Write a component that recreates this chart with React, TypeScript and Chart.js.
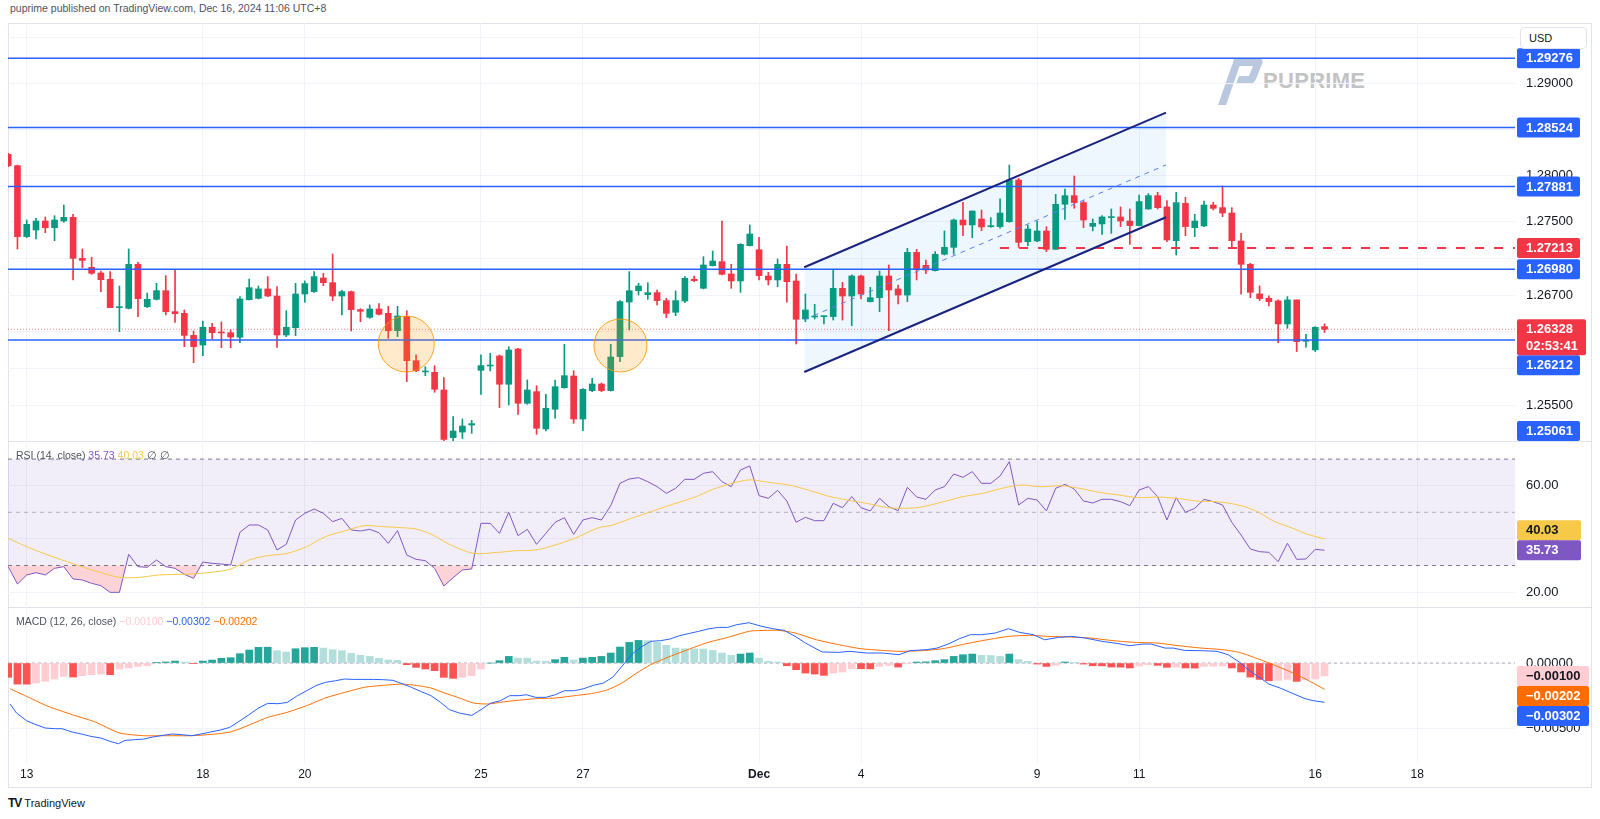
import React, { useEffect, useRef } from 'react';
import { Chart, registerables } from 'chart.js';

Chart.register(...registerables);

const FONT = '"Liberation Sans", Arial, sans-serif';
Chart.defaults.font.family = FONT;

// ---------------- DATA ----------------
const dayTickIndex = [2, 21, 32, 51, 62, 81, 92, 111, 122, 141, 152];
const dayTickLabels = ['13', '18', '20', '25', '27', 'Dec', '4', '9', '11', '16', '18'];

const opens = [1.28231,1.28108,1.27336,1.27408,1.27506,1.27434,1.27506,1.27546,1.27100,1.27002,1.26941,1.26872,1.26564,1.26556,1.27035,1.26574,1.26654,1.26748,1.26520,1.26502,1.26262,1.26157,1.26350,1.26295,1.26291,1.26241,1.26650,1.26665,1.26767,1.26690,1.26266,1.26346,1.26712,1.26738,1.26886,1.26835,1.26690,1.26738,1.26542,1.26458,1.26549,1.26502,1.26313,1.26466,1.25987,1.25864,1.25860,1.25668,1.25150,1.25210,1.25287,1.25882,1.25929,1.26038,1.25730,1.26114,1.25523,1.25650,1.25244,1.25458,1.25693,1.25820,1.25352,1.25661,1.25733,1.25661,1.26031,1.26625,1.26748,1.26705,1.26727,1.26640,1.26513,1.26636,1.26872,1.26774,1.27020,1.27064,1.26930,1.26854,1.27238,1.27194,1.26908,1.26865,1.27035,1.26854,1.26440,1.26462,1.26466,1.26466,1.26774,1.26690,1.26908,1.26629,1.26672,1.26908,1.26767,1.26701,1.27165,1.27024,1.26966,1.27144,1.27220,1.27517,1.27463,1.27528,1.27445,1.27445,1.27499,1.27952,1.27281,1.27289,1.27398,1.27198,1.27688,1.27782,1.27706,1.27448,1.27474,1.27543,1.27550,1.27506,1.27456,1.27637,1.27782,1.27659,1.27292,1.27698,1.27434,1.27452,1.27680,1.27651,1.27593,1.27289,1.27035,1.26713,1.26666,1.26637,1.26386,1.26648,1.26198,1.26104,1.26357];
const highs = [1.28242,1.28115,1.27517,1.27535,1.27550,1.27564,1.27680,1.27579,1.27202,1.27111,1.26962,1.26955,1.26799,1.27202,1.27057,1.26723,1.26828,1.26912,1.26973,1.26538,1.26310,1.26418,1.26393,1.26408,1.26321,1.26683,1.26875,1.26799,1.26901,1.26792,1.26531,1.26828,1.26854,1.26955,1.26937,1.27147,1.26752,1.26745,1.26553,1.26593,1.26607,1.26578,1.26578,1.26531,1.26049,1.25922,1.25933,1.25802,1.25378,1.25352,1.25338,1.26049,1.26067,1.26049,1.26139,1.26121,1.25777,1.25715,1.25621,1.25777,1.26165,1.25878,1.25682,1.25795,1.25744,1.26165,1.26640,1.26955,1.26828,1.26835,1.26756,1.26665,1.26745,1.26901,1.26908,1.27118,1.27180,1.27506,1.27035,1.27260,1.27463,1.27329,1.26948,1.27093,1.27234,1.26930,1.26712,1.26600,1.26473,1.26973,1.26839,1.26919,1.26919,1.26785,1.26962,1.27028,1.26810,1.27209,1.27198,1.27082,1.27173,1.27398,1.27528,1.27709,1.27615,1.27626,1.27543,1.27746,1.28115,1.27970,1.27463,1.27506,1.27445,1.27796,1.27854,1.27996,1.27724,1.27528,1.27564,1.27637,1.27659,1.27637,1.27789,1.27804,1.27818,1.27727,1.27818,1.27764,1.27579,1.27724,1.27709,1.27887,1.27651,1.27372,1.27046,1.26800,1.26691,1.26648,1.26684,1.26648,1.26274,1.26357,1.26386];
const lows = [1.28097,1.27202,1.27325,1.27310,1.27379,1.27292,1.27492,1.26865,1.26999,1.26926,1.26738,1.26564,1.26302,1.26549,1.26466,1.26564,1.26647,1.26484,1.26404,1.26139,1.25965,1.26041,1.26223,1.26128,1.26128,1.26183,1.26647,1.26658,1.26683,1.26132,1.26248,1.26259,1.26622,1.26730,1.26803,1.26640,1.26484,1.26310,1.26411,1.26448,1.26484,1.26230,1.26248,1.25759,1.25867,1.25824,1.25643,1.25061,1.25070,1.25140,1.25197,1.25621,1.25875,1.25476,1.25505,1.25403,1.25512,1.25186,1.25222,1.25360,1.25686,1.25305,1.25226,1.25650,1.25650,1.25657,1.25976,1.26321,1.26701,1.26654,1.26593,1.26455,1.26476,1.26618,1.26846,1.26767,1.27017,1.26919,1.26774,1.26730,1.27234,1.26865,1.26810,1.26792,1.26622,1.26168,1.26411,1.26440,1.26386,1.26429,1.26429,1.26368,1.26658,1.26625,1.26520,1.26313,1.26603,1.26629,1.26865,1.26933,1.26962,1.27136,1.27144,1.27347,1.27325,1.27401,1.27437,1.27427,1.27492,1.27220,1.27238,1.27281,1.27173,1.27198,1.27524,1.27644,1.27434,1.27398,1.27361,1.27372,1.27445,1.27252,1.27452,1.27633,1.27637,1.27281,1.27136,1.27347,1.27336,1.27445,1.27626,1.27553,1.27209,1.26709,1.26672,1.26640,1.26582,1.26183,1.26339,1.26086,1.26133,1.26086,1.26292];
const closes = [1.28108,1.27336,1.27470,1.27506,1.27434,1.27517,1.27546,1.27100,1.27078,1.26937,1.26868,1.26564,1.26567,1.27035,1.26661,1.26654,1.26748,1.26520,1.26498,1.26262,1.26139,1.26350,1.26291,1.26288,1.26244,1.26658,1.26781,1.26767,1.26690,1.26266,1.26350,1.26712,1.26825,1.26901,1.26835,1.26690,1.26738,1.26542,1.26524,1.26549,1.26491,1.26313,1.26473,1.25987,1.25878,1.25871,1.25675,1.25130,1.25222,1.25276,1.25302,1.25933,1.25936,1.25730,1.26103,1.25523,1.25668,1.25251,1.25469,1.25704,1.25824,1.25352,1.25675,1.25733,1.25661,1.26027,1.26629,1.26748,1.26799,1.26727,1.26640,1.26502,1.26640,1.26883,1.26857,1.27028,1.27071,1.26926,1.26854,1.27252,1.27365,1.26912,1.26865,1.27035,1.26846,1.26437,1.26538,1.26473,1.26473,1.26774,1.26690,1.26908,1.26712,1.26672,1.26908,1.26756,1.26701,1.27165,1.26984,1.26973,1.27144,1.27220,1.27517,1.27463,1.27615,1.27441,1.27452,1.27593,1.27952,1.27274,1.27419,1.27398,1.27198,1.27688,1.27782,1.27706,1.27517,1.27481,1.27550,1.27550,1.27506,1.27456,1.27717,1.27782,1.27651,1.27300,1.27706,1.27445,1.27506,1.27680,1.27644,1.27593,1.27292,1.27035,1.26730,1.26662,1.26629,1.26386,1.26648,1.26194,1.26206,1.26350,1.26328];

const levelLines = [1.29276, 1.28524, 1.27881, 1.26980, 1.26212, 1.25061];
const resistanceLevel = 1.27213;
const resistanceStartIndex = 107;
const lastPrice = 1.26328;
const countdown = '02:53:41';

const channelIndex = [85.88, 124.9];
const channelUpper = [1.27003, 1.28685];
const channelLower = [1.25864, 1.27547];
const channelMid = [1.26434, 1.28116];

const circleIndex = [42.95, 66.05];
const circlePrice = [1.26169, 1.26152];

const rsiValues = [29.56,23.04,26.43,27.3,26.43,28.93,29.56,24.93,24.55,23.3,22.42,19.91,19.91,34.2,29.56,29.31,32.07,29.56,28.93,26.68,25.18,31.32,30.82,30.56,30.19,42.47,45.23,45.23,43.35,35.83,37.96,47.1,49.61,51.24,49.61,46.48,47.73,43.35,42.97,43.6,42.34,38.33,43.1,33.95,32.32,31.82,28.93,22.29,25.43,28.31,28.68,45.85,45.85,42.09,49.99,41.22,43.6,37.96,42.09,46.23,47.98,41.72,47.1,47.98,47.1,52.49,60.89,62.52,63.02,61.52,59.64,57.13,59.01,62.39,62.39,64.65,65.28,61.52,59.64,65.9,67.41,56.25,55.25,58.26,54.25,46.23,48.11,46.85,46.85,53.37,51.74,55.88,51.74,50.49,55.25,52.12,50.61,59.39,55.75,54.87,58.38,59.64,64.4,63.15,65.28,60.89,60.89,63.65,69.03,52.74,55.25,54.62,50.49,59.01,60.51,58.76,54.25,53.5,54.87,54.87,54.0,52.49,58.38,59.64,55.88,47.1,55.5,49.99,51.49,54.87,54.0,52.74,46.23,41.47,36.2,35.2,34.95,31.44,38.33,32.32,32.44,36.08,35.73];
const rsiMaIndex = [0,2,4.3,6.9,9.4,12,14.1,16.2,18.7,20.8,23.9,26,28,30.1,32.2,34.2,36.3,38.4,40.4,42.5,44,45.6,47.6,50.2,52.8,54.9,56.9,59,61.1,63.7,65.2,66.7,68.8,71.4,74,76,78.1,80,82,84.2,86.3,88.4,90.5,92.6,94.7,96.2,98.3,100.9,103,105.1,107.2,109.3,111.4,113.5,115.6,117.7,119.8,121.9,124,126,128.2,130.2,131.8,133.4,134.9,136.5,138.6,140.2,142];
const rsiMaValues = [40.2,37.08,33.95,30.8,27.93,25.55,25.55,26.4,26.7,27.06,28.56,32.07,33.7,34.57,37.08,40.84,42.97,44.97,44.6,44.2,43.7,41.84,37.96,34.57,34.95,35.57,35.83,37.7,40.2,44.2,45.2,47.1,49.6,52.7,55.6,58.6,60.9,62.2,61.26,60.26,58.38,56.13,54.6,53.37,51.87,51.49,51.87,54.0,55.88,57.13,59.0,60.26,59.6,60.0,59.0,57.5,56.5,55.5,55.75,55.25,54.25,54.0,53.37,52.1,50.0,46.7,43.97,41.7,40.03];
const rsiLevels = [70, 50, 30];

const histValues = [-0.00110,-0.00162,-0.00163,-0.00154,-0.00141,-0.00123,-0.00103,-0.00108,-0.00097,-0.00090,-0.00085,-0.00090,-0.00046,-0.00038,-0.00026,-0.00021,0.00005,0.00008,0.00015,0.00008,-0.00005,0.00015,0.00023,0.00036,0.00041,0.00072,0.00100,0.00121,0.00122,0.00095,0.00085,0.00110,0.00118,0.00121,0.00115,0.00103,0.00095,0.00074,0.00059,0.00051,0.00036,0.00023,0.00021,-0.00013,-0.00033,-0.00046,-0.00059,-0.00110,-0.00118,-0.00110,-0.00097,-0.00046,0.00000,0.00018,0.00051,0.00038,0.00037,0.00015,0.00014,0.00026,0.00044,0.00023,0.00038,0.00044,0.00051,0.00077,0.00123,0.00159,0.00174,0.00172,0.00159,0.00136,0.00115,0.00110,0.00109,0.00108,0.00097,0.00077,0.00059,0.00069,0.00077,0.00038,0.00013,0.00008,-0.00021,-0.00051,-0.00077,-0.00085,-0.00095,-0.00077,-0.00069,-0.00044,-0.00044,-0.00045,-0.00026,-0.00018,-0.00031,-0.00003,0.00008,0.00009,0.00018,0.00026,0.00051,0.00064,0.00069,0.00059,0.00058,0.00051,0.00069,0.00026,0.00013,-0.00008,-0.00026,-0.00018,0.00008,0.00005,-0.00008,-0.00021,-0.00022,-0.00031,-0.00032,-0.00038,-0.00023,-0.00013,-0.00018,-0.00033,-0.00031,-0.00038,-0.00039,-0.00026,-0.00025,-0.00023,-0.00038,-0.00069,-0.00108,-0.00126,-0.00136,-0.00133,-0.00126,-0.00141,-0.00128,-0.00123,-0.00100];
const macdIndex = [0.2,0.9,2,3,4,5,5.8,6.9,7.9,8.9,10,11,11.9,12.6,13.6,14.6,15.6,16.7,17.7,18.7,19.8,20.8,21.8,22.9,23.9,24.9,26,27,28,29.1,30.1,31.1,32.2,33.2,34.2,35.3,36.3,37.3,38.4,39.4,40.4,41.5,42.5,43.5,44.6,45.6,46.6,47.6,48.7,50,51,52,53.1,54.1,55.1,55.9,56.9,58,59,60,61.1,62.1,63.1,64.2,65.2,66.2,67.3,68.3,69.3,70.4,71.4,72.4,73.5,74.5,75.5,76.6,77.6,78.6,79.9,81.3,82.5,83.7,84.9,86,87.8,89.6,90.8,92.6,94.3,96.1,97.3,99.1,100.2,101.4,102.6,103.8,105,106.5,107.9,109.1,110.6,111.8,113.3,114.7,116.2,118,119.8,121,122.4,123.3,124.8,125.7,126.9,128.7,130.4,131.6,132.8,134,135.2,136,137.2,138.7,139.9,140.8,142];
const macdValues = [-0.00315,-0.00385,-0.00444,-0.00474,-0.0050,-0.00505,-0.00505,-0.00531,-0.00546,-0.00564,-0.00577,-0.00603,-0.00621,-0.00595,-0.0059,-0.00585,-0.00569,-0.00556,-0.00546,-0.00551,-0.00559,-0.00546,-0.00531,-0.00515,-0.00495,-0.00449,-0.00397,-0.00346,-0.0031,-0.00313,-0.00303,-0.00256,-0.00213,-0.00174,-0.00149,-0.00136,-0.00123,-0.00126,-0.00126,-0.00126,-0.00128,-0.00133,-0.00159,-0.00187,-0.00221,-0.00251,-0.003,-0.00359,-0.00385,-0.00403,-0.00359,-0.0031,-0.0029,-0.00251,-0.00251,-0.00244,-0.00264,-0.00264,-0.00244,-0.00213,-0.00213,-0.00197,-0.00172,-0.00154,-0.0011,-0.00026,0.00069,0.00123,0.00167,0.00172,0.00185,0.0021,0.00228,0.00244,0.00262,0.00274,0.00274,0.00295,0.0031,0.00282,0.00264,0.00251,0.00205,0.00154,0.00085,0.00082,0.0009,0.00077,0.00077,0.00064,0.00095,0.00103,0.00115,0.00146,0.00187,0.00218,0.00218,0.00231,0.00264,0.00236,0.00218,0.00179,0.00197,0.00205,0.00192,0.00167,0.00149,0.00133,0.00146,0.00146,0.00115,0.00115,0.00097,0.00095,0.0009,0.00064,0.00008,-0.00064,-0.00121,-0.00162,-0.00192,-0.00238,-0.00274,-0.0029,-0.00302];
const signalIndex = [0.2,2.2,4.3,6.9,9.4,12,14.6,17.2,19.8,22.4,23.9,24.9,26.5,28,30.1,32.2,34.2,36.3,38.4,40.4,42.5,44,45.6,47.1,48.7,50.2,51.8,53.3,54.9,56.9,59,61.1,63.1,64.7,66.2,67.8,69.3,71.4,73.5,75.5,77.6,79.9,80.7,83.1,84.9,87.2,89.6,92,94.3,96.1,98.5,100.8,103.2,105.6,107.9,110.3,112.1,114.5,116.8,119.2,121.5,123.9,126.3,128.7,131,132.8,134.6,136.3,138.2,139.9,142];
const signalValues = [-0.00197,-0.00264,-0.00333,-0.00397,-0.00454,-0.00538,-0.00559,-0.00559,-0.00559,-0.00546,-0.00531,-0.00508,-0.00462,-0.00418,-0.00379,-0.00328,-0.00269,-0.00226,-0.00187,-0.00172,-0.00162,-0.00172,-0.00192,-0.00231,-0.00269,-0.00308,-0.00315,-0.003,-0.00287,-0.00274,-0.00269,-0.00251,-0.00233,-0.00205,-0.00154,-0.00077,-0.00013,0.00051,0.00108,0.00159,0.00197,0.00244,0.00249,0.00251,0.00231,0.00179,0.00141,0.0011,0.00097,0.0009,0.00095,0.0011,0.00146,0.00179,0.00205,0.00213,0.00205,0.002,0.00192,0.00172,0.00159,0.00154,0.00133,0.00115,0.00103,0.00082,0.00038,-0.00008,-0.00064,-0.00121,-0.00202];

const priceTicks = [1.255, 1.259, 1.263, 1.267, 1.271, 1.275, 1.28, 1.285, 1.29, 1.295];
const priceTicksShown = [1.255, 1.267, 1.275, 1.28, 1.29];
const rsiTicks = [20, 40, 60];
const macdTicks = [-0.005, 0];

// ---------------- STYLE ----------------
const X_MIN = -0.02;
const X_MAX = 162.55;
const GRID = '#f0f3fa';
const UP = '#089981';
const DOWN = '#f23645';
const BLUE = '#2962ff';
const RSI_COLOR = '#7e57c2';
const MA_COLOR = '#f7c948';
const MACD_COLOR = '#2962ff';
const SIGNAL_COLOR = '#ff6d00';
const TEXT = '#131722';

const minus = (v: number, d: number) => (v < 0 ? '\u2212' : '') + Math.abs(v).toFixed(d);

type Tag = { value: number; bg: string; fg: string; text: string; sub?: string; width: number; anchor?: boolean };

function drawTags(chart: any, tags: Tag[]) {
  const ctx = chart.ctx;
  const area = chart.chartArea;
  const ys = chart.scales.y;
  const H = 20;
  const items = tags.map((t) => {
    const ny = ys.getPixelForValue(t.value);
    const h = t.sub ? 36 : H;
    let top = ny - H / 2;
    top = Math.max(area.top, Math.min(top, area.bottom - h));
    return { t, ny, h, top };
  });
  const anchor = items.find((it) => it.t.anchor) || items[0];
  const below = items.filter((it) => it !== anchor && it.ny >= anchor.ny).sort((a, b) => a.ny - b.ny);
  let edge = anchor.top + anchor.h;
  for (const it of below) {
    if (it.top < edge) it.top = edge;
    edge = it.top + it.h;
  }
  const above = items.filter((it) => it !== anchor && it.ny < anchor.ny).sort((a, b) => b.ny - a.ny);
  edge = anchor.top;
  for (const it of above) {
    if (it.top + it.h > edge) it.top = edge - it.h;
    edge = it.top;
  }
  ctx.save();
  ctx.font = `bold 13px ${FONT}`;
  ctx.textBaseline = 'middle';
  ctx.textAlign = 'left';
  const ordered = items.filter((it) => it !== anchor).concat([anchor]);
  for (const it of ordered) {
    ctx.fillStyle = it.t.bg;
    ctx.beginPath();
    ctx.roundRect(area.right + 2, it.top, it.t.width, it.h, 2);
    ctx.fill();
    ctx.fillStyle = it.t.fg;
    ctx.fillText(it.t.text, area.right + 11, it.top + 10.5);
    if (it.t.sub) ctx.fillText(it.t.sub, area.right + 11, it.top + 27);
  }
  ctx.restore();
}

function xAxis(showLabels: boolean) {
  return {
    type: 'linear',
    min: X_MIN,
    max: X_MAX,
    bounds: 'data',
    offset: false,
    afterBuildTicks: (axis: any) => {
      axis.ticks = dayTickIndex.map((v) => ({ value: v }));
    },
    afterFit: (axis: any) => {
      axis.height = showLabels ? 25 : 0;
      axis.paddingLeft = 0;
      axis.paddingRight = 0;
    },
    ticks: {
      display: showLabels,
      autoSkip: false,
      maxRotation: 0,
      padding: 4,
      color: TEXT,
      callback: (_v: any, i: number) => dayTickLabels[i],
      font: (ctx: any) => ({ family: FONT, size: 12, weight: ctx.tick && ctx.tick.label === 'Dec' ? 'bold' : 'normal' }),
    },
    grid: { color: GRID, drawTicks: false, offset: false },
    border: { display: false },
  };
}

function yAxis(min: number, max: number, ticks: number[], fmt: (v: number) => string) {
  return {
    type: 'linear',
    position: 'right',
    min,
    max,
    bounds: 'data',
    beginAtZero: false,
    afterBuildTicks: (axis: any) => {
      axis.ticks = ticks.map((v) => ({ value: v }));
    },
    afterFit: (axis: any) => {
      axis.width = 76;
      axis.paddingTop = 0;
      axis.paddingBottom = 0;
    },
    ticks: { autoSkip: false, padding: 11, color: TEXT, font: { family: FONT, size: 13 }, callback: (v: any) => fmt(Number(v)) },
    grid: { color: GRID, drawTicks: false },
    border: { display: false },
  };
}

const baseOptions = {
  animation: false,
  responsive: false,
  maintainAspectRatio: false,
  events: [],
  layout: { padding: { left: 8, right: 9, top: 0, bottom: 0 }, autoPadding: false },
  plugins: { legend: { display: false }, tooltip: { enabled: false } },
};

const hLine = (from: number, to: number, y: number, extra: any) => ({
  type: 'line',
  data: [{ x: from, y }, { x: to, y }],
  pointRadius: 0,
  ...extra,
});

function priceConfig() {
  const idx = opens.map((_, i) => i);
  const colors = opens.map((o, i) => (closes[i] >= o ? UP : DOWN));
  const tags: Tag[] = [
    ...levelLines.map((v) => ({ value: v, bg: BLUE, fg: '#fff', text: v.toFixed(5), width: 63 })),
    { value: resistanceLevel, bg: DOWN, fg: '#fff', text: resistanceLevel.toFixed(5), width: 63 },
    { value: lastPrice, bg: DOWN, fg: '#fff', text: lastPrice.toFixed(5), sub: countdown, width: 69, anchor: true },
  ];
  return {
    type: 'bar',
    data: {
      datasets: [
        { type: 'line', data: channelIndex.map((x, k) => ({ x, y: channelUpper[k] })), borderWidth: 0, pointRadius: 0, fill: false, order: 20 },
        { type: 'line', data: channelIndex.map((x, k) => ({ x, y: channelLower[k] })), borderWidth: 0, pointRadius: 0, fill: '-1', backgroundColor: 'rgba(33,150,243,0.08)', order: 19 },
        { type: 'bar', data: idx.map((i) => ({ x: i, y: [lows[i], highs[i]] })), backgroundColor: colors, barThickness: 1, grouped: false, order: 6 },
        { type: 'bar', data: idx.map((i) => ({ x: i, y: [opens[i], closes[i]] })), backgroundColor: colors, barThickness: 6, grouped: false, minBarLength: 1, order: 5 },
        hLine(X_MIN, X_MAX, lastPrice, { borderColor: 'rgba(242,54,69,0.6)', borderWidth: 1, borderDash: [1, 2], order: 4 }),
        ...levelLines.map((v) => hLine(X_MIN, X_MAX, v, { borderColor: BLUE, borderWidth: 1.5, order: 3 })),
        hLine(resistanceStartIndex, X_MAX, resistanceLevel, { borderColor: DOWN, borderWidth: 2, borderDash: [9, 10], order: 3 }),
        { type: 'line', data: channelIndex.map((x, k) => ({ x, y: channelUpper[k] })), borderColor: '#1a237e', borderWidth: 2, pointRadius: 0, order: 2 },
        { type: 'line', data: channelIndex.map((x, k) => ({ x, y: channelLower[k] })), borderColor: '#1a237e', borderWidth: 2, pointRadius: 0, order: 2 },
        { type: 'line', data: channelIndex.map((x, k) => ({ x, y: channelMid[k] })), borderColor: '#5b7cf7', borderWidth: 1, borderDash: [5, 5], pointRadius: 0, order: 2 },
        { type: 'bubble', data: circleIndex.map((x, k) => ({ x, y: circlePrice[k], r: k === 0 ? 28 : 26.5 })), backgroundColor: 'rgba(255,152,0,0.2)', borderColor: 'rgba(255,152,0,0.85)', borderWidth: 1, order: 1 },
      ],
    },
    options: {
      ...baseOptions,
      scales: {
        x: xAxis(false),
        y: yAxis(1.25113, 1.2966, priceTicks, (v) => (priceTicksShown.some((t) => Math.abs(t - v) < 1e-7) ? v.toFixed(5) : '')),
      },
    },
    plugins: [{ id: 'priceTags', afterDraw: (c: any) => drawTags(c, tags) }],
  };
}

function rsiConfig() {
  const lastRsi = rsiValues[rsiValues.length - 1];
  const lastMa = rsiMaValues[rsiMaValues.length - 1];
  const tags: Tag[] = [
    { value: lastMa, bg: MA_COLOR, fg: TEXT, text: lastMa.toFixed(2), width: 64 },
    { value: lastRsi, bg: RSI_COLOR, fg: '#fff', text: lastRsi.toFixed(2), width: 64, anchor: true },
  ];
  return {
    type: 'line',
    data: {
      datasets: [
        hLine(X_MIN, X_MAX, rsiLevels[0], { borderColor: '#787b86', borderWidth: 1, borderDash: [4, 4], order: 10 }),
        hLine(X_MIN, X_MAX, rsiLevels[2], { borderColor: '#787b86', borderWidth: 1, borderDash: [4, 4], fill: '-1', backgroundColor: 'rgba(126,87,194,0.1)', order: 9 }),
        hLine(X_MIN, X_MAX, rsiLevels[1], { borderColor: 'rgba(120,123,134,0.55)', borderWidth: 1, borderDash: [4, 4], order: 8 }),
        {
          type: 'line',
          data: rsiValues.map((v, i) => ({ x: i, y: v })),
          borderColor: RSI_COLOR,
          borderWidth: 1,
          pointRadius: 0,
          fill: { target: { value: rsiLevels[2] }, above: 'rgba(0,0,0,0)', below: 'rgba(242,54,69,0.22)' },
          order: 2,
        },
        { type: 'line', data: rsiMaIndex.map((x, k) => ({ x, y: rsiMaValues[k] })), borderColor: MA_COLOR, borderWidth: 1, pointRadius: 0, tension: 0.3, order: 1 },
      ],
    },
    options: {
      ...baseOptions,
      scales: { x: xAxis(false), y: yAxis(14.4, 76.8, rsiTicks, (v) => v.toFixed(2)) },
    },
    plugins: [{ id: 'rsiTags', afterDraw: (c: any) => drawTags(c, tags) }],
  };
}

function macdConfig() {
  const colors = histValues.map((h, i) => {
    const prev = i > 0 ? histValues[i - 1] : h + 1;
    if (h >= 0) return h > prev ? '#26a69a' : '#b2dfdb';
    return h > prev ? '#ffcdd2' : '#ff5252';
  });
  const lastHist = histValues[histValues.length - 1];
  const lastMacd = macdValues[macdValues.length - 1];
  const lastSignal = signalValues[signalValues.length - 1];
  const tags: Tag[] = [
    { value: lastHist, bg: '#ffcdd2', fg: TEXT, text: minus(lastHist, 5), width: 72, anchor: true },
    { value: lastSignal, bg: SIGNAL_COLOR, fg: '#fff', text: minus(lastSignal, 5), width: 72 },
    { value: lastMacd, bg: MACD_COLOR, fg: '#fff', text: minus(lastMacd, 5), width: 72 },
  ];
  return {
    type: 'bar',
    data: {
      datasets: [
        hLine(X_MIN, X_MAX, 0, { borderColor: 'rgba(120,123,134,0.6)', borderWidth: 1, borderDash: [3, 3], order: 5 }),
        { type: 'bar', data: histValues.map((v, i) => ({ x: i, y: v })), backgroundColor: colors, barThickness: 7, grouped: false, order: 3 },
        { type: 'line', data: signalIndex.map((x, k) => ({ x, y: signalValues[k] })), borderColor: SIGNAL_COLOR, borderWidth: 1, pointRadius: 0, tension: 0.2, order: 2 },
        { type: 'line', data: macdIndex.map((x, k) => ({ x, y: macdValues[k] })), borderColor: MACD_COLOR, borderWidth: 1, pointRadius: 0, order: 1 },
      ],
    },
    options: {
      ...baseOptions,
      scales: { x: xAxis(true), y: yAxis(-0.00769, 0.00431, macdTicks, (v) => (Math.abs(v) < 1e-9 ? '0.00000' : minus(v, 5))) },
    },
    plugins: [{ id: 'macdTags', afterDraw: (c: any) => drawTags(c, tags) }],
  };
}

export default function App() {
  const pRef = useRef<HTMLCanvasElement>(null);
  const rRef = useRef<HTMLCanvasElement>(null);
  const mRef = useRef<HTMLCanvasElement>(null);

  useEffect(() => {
    const charts = [
      new Chart(pRef.current as HTMLCanvasElement, priceConfig() as any),
      new Chart(rRef.current as HTMLCanvasElement, rsiConfig() as any),
      new Chart(mRef.current as HTMLCanvasElement, macdConfig() as any),
    ];
    return () => charts.forEach((c) => c.destroy());
  }, []);

  const abs = (extra: any) => ({ position: 'absolute' as const, ...extra });
  const lastRsi = rsiValues[rsiValues.length - 1];
  const lastMa = rsiMaValues[rsiMaValues.length - 1];

  return (
    <div style={{ position: 'absolute', left: 0, top: 0, width: 1600, height: 819, background: '#fff', overflow: 'hidden', fontFamily: FONT, color: TEXT }}>
      <div style={abs({ left: 10, top: 2, fontSize: 10.5, lineHeight: '12px', color: '#50535e', whiteSpace: 'nowrap' })}>
        puprime published on TradingView.com, Dec 16, 2024 11:06 UTC+8
      </div>

      {/* frame */}
      <div style={abs({ left: 8, top: 23, width: 1584, height: 765, border: '1px solid #e0e3eb', boxSizing: 'border-box' })} />
      <div style={abs({ left: 8, top: 441, width: 1584, height: 1, background: '#e0e3eb' })} />
      <div style={abs({ left: 8, top: 607, width: 1584, height: 1, background: '#e0e3eb' })} />

      {/* watermark */}
      <svg style={abs({ left: 1212, top: 57, width: 52, height: 50 })} viewBox="0 0 52 50">
        <path d="M6 48 L14 48 L28 8 L20 8 Z" fill="#b9c8de" />
        <path d="M22 2 L48 2 Q52 2 50 7 L44 22 Q42 27 37 27 L24 27 L27 19 L37 19 L41 9 L20 9 Z" fill="#b9c8de" />
      </svg>
      <div style={abs({ left: 1263, top: 68, fontSize: 22, fontWeight: 'bold', color: '#c3c3c3', letterSpacing: 0.3, lineHeight: '26px' })}>PUPRIME</div>

      <canvas ref={pRef} width={1600} height={418} style={abs({ left: 0, top: 23, width: 1600, height: 418 })} />
      <canvas ref={rRef} width={1600} height={166} style={abs({ left: 0, top: 441, width: 1600, height: 166 })} />
      <canvas ref={mRef} width={1600} height={181} style={abs({ left: 0, top: 607, width: 1600, height: 181 })} />

      {/* currency box */}
      <div style={abs({ left: 1520, top: 27, width: 67, height: 22, border: '1px solid #e0e3eb', borderRadius: 4, boxSizing: 'border-box', background: '#fff', fontSize: 11, lineHeight: '20px', paddingLeft: 8 })}>USD</div>

      {/* legends */}
      <div style={abs({ left: 16, top: 448, fontSize: 10.5, lineHeight: '14px', color: '#50535e', whiteSpace: 'pre' })}>
        {'RSI (14, close) '}
        <span style={{ color: RSI_COLOR }}>{lastRsi.toFixed(2)}</span>{' '}
        <span style={{ color: MA_COLOR }}>{lastMa.toFixed(2)}</span>
        {' \u2205 \u2205'}
      </div>
      <div style={abs({ left: 16, top: 614, fontSize: 10.5, lineHeight: '14px', color: '#50535e', whiteSpace: 'pre' })}>
        {'MACD (12, 26, close) '}
        <span style={{ color: '#ffcdd2' }}>{minus(histValues[histValues.length - 1], 5)}</span>{' '}
        <span style={{ color: MACD_COLOR }}>{minus(macdValues[macdValues.length - 1], 5)}</span>{' '}
        <span style={{ color: SIGNAL_COLOR }}>{minus(signalValues[signalValues.length - 1], 5)}</span>
      </div>

      {/* footer */}
      <div style={abs({ left: 8, top: 796, fontSize: 11, lineHeight: '14px', color: '#131722', whiteSpace: 'nowrap' })}>
        <span style={{ fontWeight: 900, fontSize: 12, letterSpacing: -1, marginRight: 3 }}>TV</span>TradingView
      </div>
    </div>
  );
}
